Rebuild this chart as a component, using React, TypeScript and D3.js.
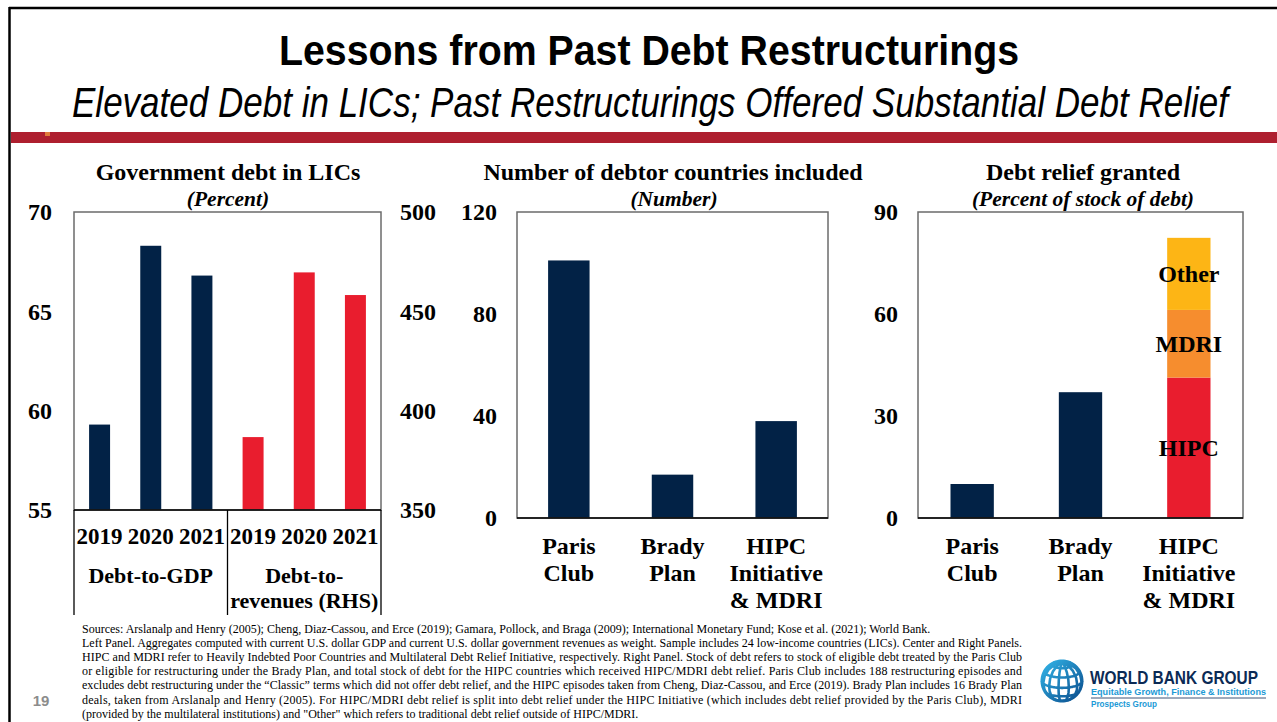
import React from "react";
import * as d3 from "d3";

const W = 1277;
const H = 722;

// ---------- DATA ----------
const govYears = ["2019", "2020", "2021"];
const debtToGdp = [59.3, 68.3, 66.8];
const debtToRevenue = [386.7, 469.6, 458.2];
const leftTicks = [55, 60, 65, 70];
const rightTicks = [350, 400, 450, 500];
const govGroupLabels = [["Debt-to-GDP"], ["Debt-to-", "revenues (RHS)"]];

const programLabelLines = [["Paris", "Club"], ["Brady", "Plan"], ["HIPC", "Initiative", "& MDRI"]];
const debtorCountries = [101, 17, 38];
const countryTicks = [0, 40, 80, 120];

const reliefSimple = [10, 37]; // Paris Club, Brady Plan
const hipcComponents = ["HIPC", "MDRI", "Other"];
const hipcValues = [41.3, 19.9, 21.2];
const reliefTicks = [0, 30, 60, 90];

const footnoteLines = [
  "Sources: Arslanalp and Henry (2005); Cheng, Diaz-Cassou, and Erce (2019); Gamara, Pollock, and Braga (2009); International Monetary Fund; Kose et al. (2021); World Bank.",
  "Left Panel. Aggregates computed with current U.S. dollar GDP and current U.S. dollar government revenues as weight. Sample includes 24 low-income countries (LICs). Center and Right Panels.",
  "HIPC and MDRI refer to Heavily Indebted Poor Countries and Multilateral Debt Relief Initiative, respectively. Right Panel. Stock of debt refers to stock of eligible debt treated by the Paris Club",
  "or eligible for restructuring under the Brady Plan, and total stock of debt for the HIPC countries which received HIPC/MDRI debt relief. Paris Club includes 188 restructuring episodes and",
  "excludes debt restructuring under the \u201cClassic\u201d terms which did not offer debt relief, and the HIPC episodes taken from Cheng, Diaz-Cassou, and Erce (2019). Brady Plan includes 16 Brady Plan",
  "deals, taken from Arslanalp and Henry (2005). For HIPC/MDRI debt relief is split into debt relief under the HIPC Initiative (which includes debt relief provided by the Paris Club), MDRI",
  "(provided by the multilateral institutions) and \"Other\" which refers to traditional debt relief outside of HIPC/MDRI.",
];

// ---------- STYLE ----------
const NAVY = "#022246";
const RED = "#E91D2E";
const ORANGE = "#F68D2E";
const YELLOW = "#FDB515";
const SERIF = "'Liberation Serif', 'Times New Roman', serif";
const SANS = "'Liberation Sans', Arial, sans-serif";
const FRAME = "#6b6b6b";

const tickStyle: React.CSSProperties = { fontFamily: SERIF, fontWeight: 700, fontSize: 24 };
const titleStyle: React.CSSProperties = { fontFamily: SERIF, fontWeight: 700, fontSize: 24 };
const subStyle: React.CSSProperties = { fontFamily: SERIF, fontWeight: 700, fontStyle: "italic", fontSize: 21.5 };
const catStyle: React.CSSProperties = { fontFamily: SERIF, fontWeight: 700, fontSize: 24 };
const yearStyle: React.CSSProperties = { fontFamily: SERIF, fontWeight: 700, fontSize: 23 };
const groupStyle: React.CSSProperties = { fontFamily: SERIF, fontWeight: 700, fontSize: 22 };

function LeftPanel() {
  const x0 = 74, x1 = 381, yTop = 212, yBot = 510;
  const cats = d3.range(6);
  const x = d3.scaleBand<number>().domain(cats).range([x0, x1]).paddingInner(0.59).paddingOuter(0.295);
  const slot = d3.scaleBand<number>().domain(cats).range([x0, x1]);
  const yL = d3.scaleLinear().domain([55, 70]).range([yBot, yTop]);
  const yR = d3.scaleLinear().domain([350, 500]).range([yBot, yTop]);
  const values = [...debtToGdp.map((v) => ({ v, s: yL, c: NAVY })), ...debtToRevenue.map((v) => ({ v, s: yR, c: RED }))];
  const groupMid = [(x0 + slot(3)!) / 2, (slot(3)! + x1) / 2];
  return (
    <g>
      <text x={228} y={180} textAnchor="middle" style={titleStyle}>Government debt in LICs</text>
      <text x={228} y={206} textAnchor="middle" style={subStyle}>(Percent)</text>
      {values.map((d, i) => (
        <rect key={i} x={x(i)} y={d.s(d.v)} width={x.bandwidth()} height={yBot - d.s(d.v)} fill={d.c} />
      ))}
      <rect x={x0} y={yTop} width={x1 - x0} height={yBot - yTop} fill="none" stroke={FRAME} strokeWidth={1.5} />
      <line x1={x0} x2={x1} y1={yBot} y2={yBot} stroke="#000" strokeWidth={1.5} />
      {[x0, slot(3)!, x1].map((xx, i) => (
        <line key={i} x1={xx} x2={xx} y1={yBot} y2={615} stroke="#000" strokeWidth={1.3} />
      ))}
      {leftTicks.map((t) => (
        <text key={t} x={52} y={yL(t)} dy="0.35em" textAnchor="end" style={tickStyle}>{t}</text>
      ))}
      {rightTicks.map((t) => (
        <text key={t} x={400} y={yR(t)} dy="0.35em" textAnchor="start" style={tickStyle}>{t}</text>
      ))}
      {cats.map((i) => (
        <text key={i} x={slot(i)! + slot.bandwidth() / 2} y={544} textAnchor="middle" style={yearStyle}>
          {govYears[i % 3]}
        </text>
      ))}
      {govGroupLabels.map((lines, g) =>
        lines.map((l, k) => (
          <text key={g + "-" + k} x={groupMid[g]} y={583 + k * 25} textAnchor="middle" style={groupStyle}>{l}</text>
        ))
      )}
    </g>
  );
}

function MiddlePanel() {
  const x0 = 517, x1 = 828, yTop = 212, yBot = 518;
  const cats = d3.range(programLabelLines.length);
  const x = d3.scaleBand<number>().domain(cats).range([x0, x1]).paddingInner(0.6).paddingOuter(0.3);
  const y = d3.scaleLinear().domain([0, 120]).range([yBot, yTop]);
  return (
    <g>
      <text x={673} y={180} textAnchor="middle" style={titleStyle}>Number of debtor countries included</text>
      <text x={674} y={206} textAnchor="middle" style={subStyle}>(Number)</text>
      {debtorCountries.map((v, i) => (
        <rect key={i} x={x(i)} y={y(v)} width={x.bandwidth()} height={yBot - y(v)} fill={NAVY} />
      ))}
      <rect x={x0} y={yTop} width={x1 - x0} height={yBot - yTop} fill="none" stroke={FRAME} strokeWidth={1.5} />
      <line x1={x0} x2={x1} y1={yBot} y2={yBot} stroke="#000" strokeWidth={1.5} />
      {countryTicks.map((t) => (
        <text key={t} x={497} y={y(t)} dy="0.35em" textAnchor="end" style={tickStyle}>{t}</text>
      ))}
      {programLabelLines.map((lines, i) =>
        lines.map((l, k) => (
          <text key={i + "-" + k} x={x(i)! + x.bandwidth() / 2} y={554 + k * 27} textAnchor="middle" style={catStyle}>{l}</text>
        ))
      )}
    </g>
  );
}

function RightPanel() {
  const x0 = 918, x1 = 1243, yTop = 212, yBot = 518;
  const cats = d3.range(programLabelLines.length);
  const x = d3.scaleBand<number>().domain(cats).range([x0, x1]).paddingInner(0.6).paddingOuter(0.3);
  const y = d3.scaleLinear().domain([0, 90]).range([yBot, yTop]);
  const tops = Array.from(d3.cumsum(hipcValues));
  const segColors = [RED, ORANGE, YELLOW];
  const hx = x(2)!;
  return (
    <g>
      <text x={1083} y={180} textAnchor="middle" style={titleStyle}>Debt relief granted</text>
      <text x={1083} y={206} textAnchor="middle" style={subStyle}>(Percent of stock of debt)</text>
      {reliefSimple.map((v, i) => (
        <rect key={i} x={x(i)} y={y(v)} width={x.bandwidth()} height={yBot - y(v)} fill={NAVY} />
      ))}
      {hipcValues.map((v, i) => {
        const lo = tops[i] - v;
        const hi = tops[i];
        return <rect key={i} x={hx} y={y(hi)} width={x.bandwidth()} height={y(lo) - y(hi)} fill={segColors[i]} />;
      })}
      {hipcComponents.map((name, i) => {
        const mid = tops[i] - hipcValues[i] / 2;
        return (
          <text key={name} x={hx + x.bandwidth() / 2} y={y(mid)} dy="0.35em" textAnchor="middle" style={catStyle}>{name}</text>
        );
      })}
      <rect x={x0} y={yTop} width={x1 - x0} height={yBot - yTop} fill="none" stroke={FRAME} strokeWidth={1.5} />
      <line x1={x0} x2={x1} y1={yBot} y2={yBot} stroke="#000" strokeWidth={1.5} />
      {reliefTicks.map((t) => (
        <text key={t} x={898} y={y(t)} dy="0.35em" textAnchor="end" style={tickStyle}>{t}</text>
      ))}
      {programLabelLines.map((lines, i) =>
        lines.map((l, k) => (
          <text key={i + "-" + k} x={x(i)! + x.bandwidth() / 2} y={554 + k * 27} textAnchor="middle" style={catStyle}>{l}</text>
        ))
      )}
    </g>
  );
}

function Logo() {
  const cx = 1062, cy = 681, r = 20;
  const proj = d3.geoOrthographic().scale(r).translate([cx, cy]).rotate([20, -20]);
  const path = d3.geoPath(proj);
  const grat = d3.geoGraticule().step([30, 30])();
  return (
    <g>
      <defs>
        <linearGradient id="globeGrad" x1="0" y1="0" x2="1" y2="1">
          <stop offset="0" stopColor="#33B5E8" />
          <stop offset="1" stopColor="#0A4C8C" />
        </linearGradient>
      </defs>
      <path d={path(grat) || ""} fill="none" stroke="url(#globeGrad)" strokeWidth={2.6} />
      <path d={path({ type: "Sphere" } as any) || ""} fill="none" stroke="url(#globeGrad)" strokeWidth={3} />
      <g transform="translate(1090,684) scale(1,1.25)">
        <text x={0} y={0} textLength={168} lengthAdjust="spacingAndGlyphs"
          style={{ fontFamily: SANS, fontWeight: 700, fontSize: 14.5, fill: "#0B2A55" }}>WORLD BANK GROUP</text>
      </g>
      <text x={1091} y={695} textLength={175} lengthAdjust="spacingAndGlyphs"
        style={{ fontFamily: SANS, fontWeight: 700, fontSize: 9.5, fill: "#1C9AD6" }}>Equitable Growth, Finance &amp; Institutions</text>
      <line x1={1091} x2={1266} y1={698} y2={698} stroke="#0B2A55" strokeWidth={0.8} />
      <text x={1091} y={707} textLength={66} lengthAdjust="spacingAndGlyphs"
        style={{ fontFamily: SANS, fontWeight: 700, fontSize: 8.5, fill: "#1C9AD6" }}>Prospects Group</text>
    </g>
  );
}

export default function App() {
  return (
    <svg width={W} height={H} viewBox={`0 0 ${W} ${H}`}
      style={{ position: "absolute", left: 0, top: 0, background: "#fff" }}>
      <rect x={0} y={0} width={W} height={H} fill="#fff" />
      {/* slide frame */}
      <line x1={9} x2={W} y1={8} y2={8} stroke="#000" strokeWidth={2.5} />
      <line x1={9.5} x2={9.5} y1={7} y2={H} stroke="#000" strokeWidth={2.5} />
      {/* header */}
      <g transform="translate(649,65) scale(1,1.22)">
        <text x={0} y={0} textAnchor="middle" textLength={740} lengthAdjust="spacingAndGlyphs"
          style={{ fontFamily: SANS, fontWeight: 700, fontSize: 35 }}>Lessons from Past Debt Restructurings</text>
      </g>
      <g transform="translate(650,117) scale(1,1.3)">
        <text x={0} y={0} textAnchor="middle" textLength={1156} lengthAdjust="spacingAndGlyphs"
          style={{ fontFamily: SANS, fontStyle: "italic", fontSize: 32 }}>Elevated Debt in LICs; Past Restructurings Offered Substantial Debt Relief</text>
      </g>
      <rect x={11} y={132} width={W - 11} height={11} fill="#AE1F2F" />
      <rect x={45} y={132} width={5} height={4} fill="#E07A3A" />

      <LeftPanel />
      <MiddlePanel />
      <RightPanel />

      {/* footnote */}
      {footnoteLines.map((l, i) => {
        const justify = i > 0 && i < footnoteLines.length - 1;
        return (
          <text key={i} x={82} y={633 + i * 14.1}
            {...(justify ? { textLength: 940, lengthAdjust: "spacing" } : {})}
            style={{ fontFamily: SERIF, fontSize: 12 }}>{l}</text>
        );
      })}
      <text x={41} y={706} textAnchor="middle"
        style={{ fontFamily: SANS, fontWeight: 700, fontSize: 15, fill: "#8c8c8c" }}>19</text>
      <Logo />
    </svg>
  );
}
